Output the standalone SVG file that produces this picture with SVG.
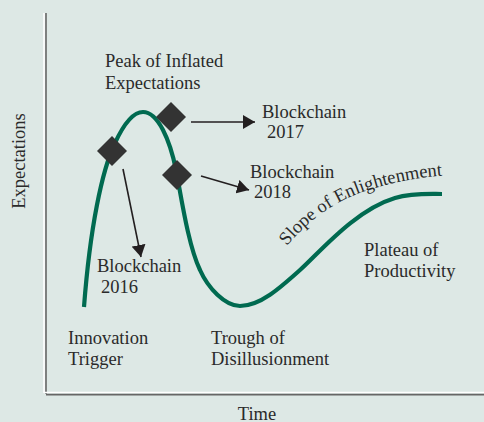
<svg xmlns="http://www.w3.org/2000/svg" xmlns:xlink="http://www.w3.org/1999/xlink" width="484" height="422" viewBox="0 0 484 422">
  <style>
    .lbl { font-family: "Liberation Serif", "Times New Roman", serif; font-size: 18.5px; fill: #2a2a2a; }
    .curve { fill: none; stroke: #006a50; stroke-width: 4.2; stroke-linecap: butt; }
    .diamond { fill: #333333; }
    .arrow { fill: none; stroke: #231f20; stroke-width: 1.6; marker-end: url(#head); }
  </style>
  <defs>
    <marker id="head" viewBox="0 0 12 14" refX="12" refY="7" markerWidth="12" markerHeight="14" markerUnits="userSpaceOnUse" orient="auto">
      <path d="M0,0 L12,7 L0,14 Z" fill="#231f20"/>
    </marker>
    <path id="slopePath" d="M 287 246 C 305 224, 330 204, 360 193 C 385 184, 415 177, 450 175"/>
  </defs>

  <!-- background -->
  <rect x="0" y="0" width="484" height="422" fill="#dde8e5"/>

  <!-- axes -->
  <g id="axes">
    <line x1="44" y1="13" x2="44" y2="393" stroke="#ffffff" stroke-width="1.5"/>
    <line x1="46" y1="13" x2="46" y2="394" stroke="#666666" stroke-width="1.6"/>
    <line x1="44" y1="392.5" x2="484" y2="392.5" stroke="#ffffff" stroke-width="1.6"/>
    <line x1="46" y1="394.6" x2="484" y2="394.6" stroke="#666666" stroke-width="1.6"/>
    <text class="lbl" transform="translate(24.5 161) rotate(-90)" text-anchor="middle">Expectations</text>
    <text class="lbl" x="257" y="420" text-anchor="middle">Time</text>
  </g>

  <!-- hype curve -->
  <g id="curve">
    <path class="curve" d="M 84 307 C 90 228, 102 170, 115 143 C 121 130, 131 112, 143 112 C 158 112, 170 140, 176 170 C 181 195, 188 245, 200 270 C 208 288, 225 306, 240 306 C 260 306, 280 288, 300 270 C 320 252, 355 210, 395 198 C 412 193, 428 194, 442 194"/>
    <text class="lbl"><textPath xlink:href="#slopePath" href="#slopePath">Slope of Enlightenment</textPath></text>
  </g>

  <!-- connectors -->
  <g id="connectors">
    <line class="arrow" x1="123" y1="169" x2="141" y2="257"/>
    <line class="arrow" x1="191" y1="122" x2="255" y2="122"/>
    <line class="arrow" x1="201" y1="176" x2="249" y2="190"/>
  </g>

  <!-- phase labels -->
  <g id="peak">
    <text class="lbl" x="105" y="67">Peak of Inflated</text>
    <text class="lbl" x="105" y="89">Expectations</text>
  </g>
  <g id="trigger">
    <text class="lbl" x="68" y="344">Innovation</text>
    <text class="lbl" x="68" y="365">Trigger</text>
  </g>
  <g id="trough">
    <text class="lbl" x="211" y="344">Trough of</text>
    <text class="lbl" x="211" y="365">Disillusionment</text>
  </g>
  <g id="plateau">
    <text class="lbl" x="364" y="256">Plateau of</text>
    <text class="lbl" x="364" y="277">Productivity</text>
  </g>

  <!-- blockchain markers -->
  <g id="bc2016">
    <path class="diamond" d="M112 136 L127 151 L112 166 L97 151 Z"/>
    <text class="lbl" x="97" y="272">Blockchain</text>
    <text class="lbl" x="101" y="293">2016</text>
  </g>
  <g id="bc2017">
    <path class="diamond" d="M171 102 L186 117 L171 132 L156 117 Z"/>
    <text class="lbl" x="262" y="118">Blockchain</text>
    <text class="lbl" x="267" y="138">2017</text>
  </g>
  <g id="bc2018">
    <path class="diamond" d="M177 160 L192 175 L177 190 L162 175 Z"/>
    <text class="lbl" x="250" y="178">Blockchain</text>
    <text class="lbl" x="254" y="198">2018</text>
  </g>
</svg>
